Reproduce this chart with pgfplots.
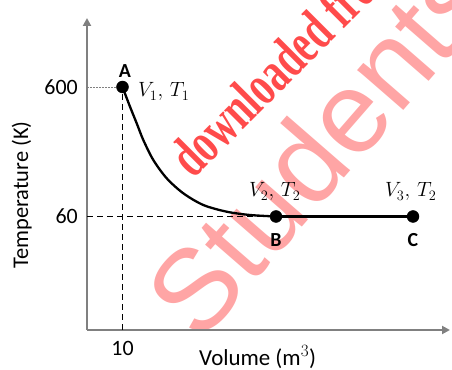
\documentclass[border=0pt]{standalone}
\usepackage{fontspec}
\setmainfont{Carlito}
\newfontfamily\wmserif{Liberation Serif}
\newfontfamily\wmsans{Liberation Sans}
\usepackage{pgfplots}
\pgfplotsset{compat=1.18}
\usetikzlibrary{arrows.meta}
\definecolor{wmred}{RGB}{255,75,75}
\definecolor{wmpink}{RGB}{255,165,165}
\definecolor{axgray}{RGB}{128,128,128}
\begin{document}
\begin{tikzpicture}
\begin{scope}
\clip (0,0) rectangle (452bp,370bp);
\node[text=wmpink, font=\wmsans\fontsize{116}{116}\selectfont, rotate=49, anchor=base west, inner sep=0pt] at (200bp,25bp) {Students};
\end{scope}
\begin{axis}[
  at={(87bp,40bp)}, anchor=south west,
  scale only axis, width=363bp, height=312bp,
  xmin=0, xmax=363, ymin=0, ymax=312,
  axis lines=left,
  axis line style={axgray, line width=2bp, -{Triangle[width=8bp,length=8bp]}},
  xtick={35.5}, xticklabels={10},
  ytick={113.5,243}, yticklabels={60,600},
  major tick length=0pt,
  /pgf/number format/assume math mode=true,
  every tick label/.append style={font=\fontsize{22}{24}\selectfont, inner sep=0pt},
  yticklabel style={xshift=-9bp},
  xticklabel style={yshift=-11bp},
  clip=false,
]
\addplot[black, line width=1.3bp, dash pattern=on 6bp off 4bp] coordinates {(35.5,0) (35.5,243)};
\addplot[black, line width=1.3bp, dash pattern=on 6bp off 4bp] coordinates {(0,113.5) (189,113.5)};
\addplot[axgray, line width=0.7bp, dash pattern=on 1.5bp off 1.5bp] coordinates {(0,243) (35.5,243)};
\addplot[black, line width=2.3bp, smooth] coordinates {
(35.5,243) (43,223.3) (49.7,206.7) (56.3,190) (66.3,170) (79.7,151.7) (96.3,136.7) (116.3,125) (139.7,118.3) (163,115) (189,113.5)};
\addplot[black, line width=2.3bp] coordinates {(189,113.5) (326,113.5)};
\addplot[black, only marks, mark=*, mark size=6bp] coordinates {(35.5,243) (189,113.5) (326,113.5)};
\end{axis}
\begin{scope}
\clip (0,0) rectangle (452bp,370bp);
\node[text=wmred, font=\wmserif\bfseries\fontsize{58}{58}\selectfont, rotate=45, xscale=0.68, anchor=base west, inner sep=0pt] at (193bp,190bp) {downloaded from};
\end{scope}
\node[font=\fontsize{20}{22}\selectfont\bfseries] at (125bp,299bp) {A};
\node[font=\fontsize{20}{22}\selectfont\bfseries] at (276bp,130bp) {B};
\node[font=\fontsize{20}{22}\selectfont\bfseries] at (413bp,130bp) {C};
\node[font=\fontsize{22}{24}\selectfont, anchor=base west, inner sep=0pt] at (138bp,273bp) {$V_1,\,T_1$};
\node[font=\fontsize{22}{24}\selectfont, anchor=base west, inner sep=0pt] at (249bp,173bp) {$V_2,\,T_2$};
\node[font=\fontsize{22}{24}\selectfont, anchor=base west, inner sep=0pt] at (385bp,173bp) {$V_3,\,T_2$};
\node[font=\fontsize{23}{25}\selectfont, anchor=base west, inner sep=0pt] at (199bp,5bp) {Volume ($\mathrm{m}^3$)};
\node[font=\fontsize{22.5}{24}\selectfont, anchor=base, rotate=90, inner sep=0pt] at (28bp,175bp) {Temperature (K)};
\pgfresetboundingbox
\useasboundingbox (0,0) rectangle (452bp,370bp);
\end{tikzpicture}
\end{document}
